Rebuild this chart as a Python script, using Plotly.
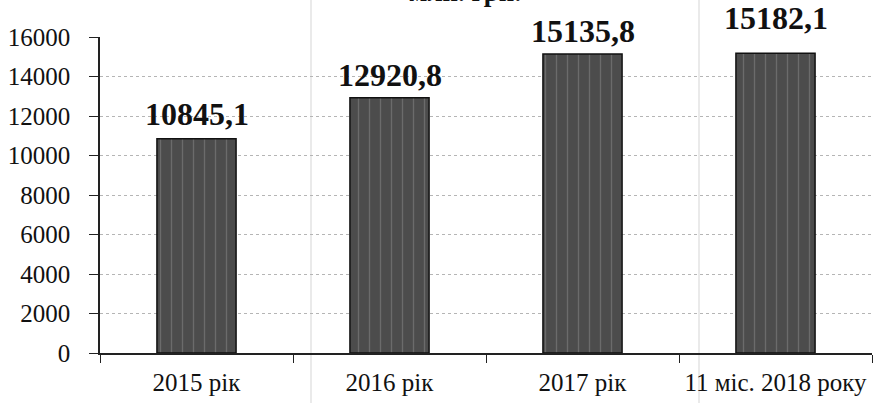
import plotly.graph_objects as go

categories = ["2015 рік", "2016 рік", "2017 рік", "11 міс. 2018 року"]
values = [10845.1, 12920.8, 15135.8, 15182.1]
value_labels = ["10845,1", "12920,8", "15135,8", "15182,1"]
y_ticks = [0, 2000, 4000, 6000, 8000, 10000, 12000, 14000, 16000]
title_text = "млн. грн."

# layout-only settings
FONT = "Liberation Serif"
L, T, W = 100, 37, 772
label_shift = [5, 3, 3, 15]

fig = go.Figure()
fig.add_trace(go.Bar(
    x=categories, y=values,
    marker=dict(color="#4c4c4c", line=dict(color="#111111", width=1.5),
                pattern=dict(shape="|", fgcolor="#8a8a8a", size=11, solidity=0.12)),
    width=0.41,
))

for cat, val, lab, sh in zip(categories, values, value_labels, label_shift):
    fig.add_annotation(x=cat, y=val, text="<b>" + lab + "</b>", showarrow=False,
                       yanchor="bottom", yshift=sh,
                       font=dict(family=FONT, size=32, color="#111111"))

# faint vertical rules from the source page (scan artefacts)
for xp in [311, 699]:
    fig.add_shape(type="line", xref="paper", yref="paper",
                  x0=(xp - L) / W, x1=(xp - L) / W, y0=-0.25, y1=1.2,
                  line=dict(color="#d5d5d5", width=1), layer="below")

fig.add_annotation(text="<b>" + title_text + "</b>", xref="paper", yref="paper",
                   x=(465 - L) / W, y=1.09, yanchor="bottom", showarrow=False,
                   font=dict(family=FONT, size=27, color="#111111"))

fig.update_layout(
    width=873, height=403, margin=dict(l=L, r=1, t=T, b=50),
    paper_bgcolor="white", plot_bgcolor="white", showlegend=False,
    font=dict(family=FONT, color="#111111"),
)
fig.update_xaxes(showline=True, linecolor="#222222", linewidth=1.5,
                 ticks="outside", tickson="boundaries", ticklen=8, tickcolor="#222222",
                 tickfont=dict(size=25, family=FONT, color="#111111"),
                 ticklabelstandoff=6, showgrid=False)
fig.update_yaxes(range=[0, 16000], tickvals=y_ticks, tickformat="d",
                 showline=True, linecolor="#222222",
                 linewidth=1.5, ticks="outside", ticklen=9, tickcolor="#222222",
                 tickfont=dict(size=25, family=FONT, color="#111111"),
                 ticklabelstandoff=14,
                 showgrid=True, gridcolor="#b5b5b5", griddash="dot", gridwidth=1,
                 zeroline=False)
fig.write_html("out.html", config={"displayModeBar": False},
               post_script="document.body.style.margin='0';")
